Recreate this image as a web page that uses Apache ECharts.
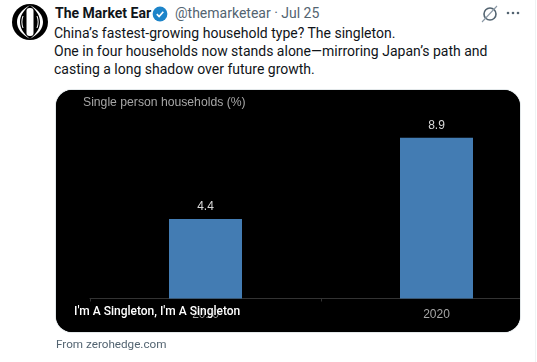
<!DOCTYPE html>
<html>
<head>
<meta charset="utf-8">
<script src="https://cdn.jsdelivr.net/npm/echarts@6/dist/echarts.min.js"></script>
<style>
  html, body { margin: 0; padding: 0; background: #fff; width: 537px; height: 362px; overflow: hidden; }
  body { position: relative; font-family: Roboto, 'Noto Sans', sans-serif; color: #0f1419; }
  .abs { position: absolute; white-space: nowrap; }
  #card { position: absolute; left: 56px; top: 90px; width: 464px; height: 242px; border-radius: 16px; overflow: hidden; background: #000; box-shadow: 0 0 0 1px #e3e8ea; }
  #chart { width: 464px; height: 242px; }
  .tweet { left: 54px; top: 24px; font-size: 14px; line-height: 18px; }
</style>
</head>
<body>
  <div class="abs" style="left:535px;top:0;width:1px;height:362px;background:#eff3f4"></div>
  <svg class="abs" style="left:12px;top:4px" width="36" height="36" viewBox="0 0 36 36">
    <circle cx="18" cy="18" r="18" fill="#000"/>
    <path d="M18 1 C9 6 5 12 5 18 C5 24 9 30 18 35 C11 29 8 24 8 18 C8 12 11 7 18 1Z" fill="#fff"/>
    <path d="M18 1 C27 6 31 12 31 18 C31 24 27 30 18 35 C25 29 28 24 28 18 C28 12 25 7 18 1Z" fill="#fff"/>
    <rect x="14.5" y="4" width="7" height="28" rx="3" fill="#fff"/>
    <path d="M11 12 C9.5 16 9.5 20 11 24" stroke="#fff" stroke-width="1" fill="none"/>
    <path d="M25 12 C26.5 16 26.5 20 25 24" stroke="#fff" stroke-width="1" fill="none"/>
  </svg>
  <div class="abs" style="left:55px;top:3px;font-size:14px;line-height:20px;font-weight:700">The Market Ear</div>
  <svg class="abs" style="left:152px;top:6px" width="16" height="16" viewBox="0 0 16 16">
    <circle cx="8" cy="8" r="7.4" fill="#1d84c9"/>
    <path d="M4.8 8.2 L7.1 10.5 L11.3 5.8" stroke="#fff" stroke-width="1.7" fill="none"/>
  </svg>
  <div class="abs" style="left:175px;top:3px;font-size:14px;line-height:20px;color:#536471">@themarketear · Jul 25</div>
  <svg class="abs" style="left:480px;top:3px" width="20" height="20" viewBox="0 0 20 20">
    <circle cx="10" cy="11" r="6" stroke="#536471" stroke-width="1.6" fill="none"/>
    <path d="M2 19 L17 3" stroke="#8b98a5" stroke-width="1.1"/>
  </svg>
  <svg class="abs" style="left:505px;top:9px" width="16" height="8" viewBox="0 0 16 8">
    <circle cx="3" cy="4" r="1.3" fill="#536471"/><circle cx="8" cy="4" r="1.3" fill="#536471"/><circle cx="13" cy="4" r="1.3" fill="#536471"/>
  </svg>
  <div class="abs tweet">China’s fastest-growing household type? The singleton.<br>One in four households now stands alone—mirroring Japan’s path and<br>casting a long shadow over future growth.</div>

  <div id="card"><div id="chart"></div></div>
  <div class="abs" style="left:74px;top:302px;font-size:12px;line-height:18px;font-weight:500;color:#fff;text-shadow:0 0 2px #000,0 0 2px #000,0 0 2px #000">I'm A Singleton, I'm A Singleton</div>
  <div class="abs" style="left:56px;top:335px;font-size:11.7px;line-height:18px;color:#536471">From zerohedge.com</div>

<script>
const categories = ['2010', '2020']
const shareValues = [4.4, 8.9]
const chartTitle = 'Single person households (%)'

const chart = echarts.init(document.getElementById('chart'), null, { renderer: 'canvas' })

chart.setOption({
  backgroundColor: '#000',
  animation: false,
  title: {
    text: chartTitle,
    left: 27,
    top: 7,
    padding: 0,
    textStyle: { color: '#a6a6a6', fontWeight: 'normal', fontSize: 12.2, fontFamily: 'Liberation Sans' }
  },
  // grid runs past the right edge of the card, the source image is cropped there
  grid: { left: 34, top: 28, width: 462, height: 180.5, outerBoundsMode: 'none' },
  xAxis: {
    type: 'category',
    data: categories,
    axisLine: { lineStyle: { color: '#333', width: 1 } },
    axisTick: { show: true, length: 3, lineStyle: { color: '#333' } },
    axisLabel: { color: '#a6a6a6', fontSize: 12, fontFamily: 'Liberation Sans', margin: 10 }
  },
  yAxis: { type: 'value', min: 0, max: 10, show: false },
  series: [{
    type: 'bar',
    data: shareValues,
    barWidth: 73,
    itemStyle: { color: '#437cb3' },
    label: {
      show: true,
      position: 'top',
      distance: 6,
      color: '#d9d9d9',
      fontSize: 12,
      fontFamily: 'Liberation Sans'
    }
  }]
})
</script>
</body>
</html>
